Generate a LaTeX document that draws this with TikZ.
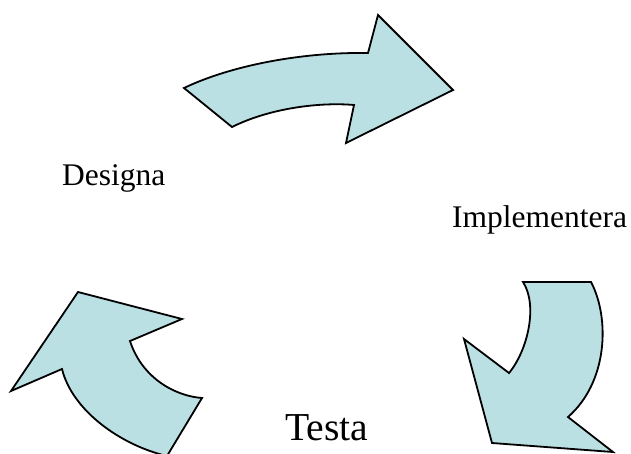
\documentclass[tikz,border=0pt]{standalone}
\usepackage{fontspec}
\setmainfont{Liberation Serif}
\definecolor{cyclefill}{RGB}{187,224,227}

\begin{document}
\begin{tikzpicture}
[every node/.style={inner sep=0pt}, cyclearrow/.style={fill=cyclefill, line width=1.8pt, draw=black, line join=miter}]
\clip (0pt, 0pt) rectangle (631pt, -453pt);
\draw [cyclearrow] (184pt, -88pt) .. controls (230pt, -66pt) and (300pt, -52pt) .. (368pt, -53pt) -- (378pt, -15pt) -- (453pt, -90pt) -- (346pt, -143pt) -- (354pt, -105pt) .. controls (320pt, -102pt) and (270pt, -108pt) .. (232pt, -127pt) -- cycle;
\draw [cyclearrow] (523pt, -282pt) -- (591pt, -282pt) .. controls (610pt, -318pt) and (608pt, -382pt) .. (568pt, -417pt) -- (613pt, -452pt) -- (492pt, -443pt) -- (464pt, -339pt) -- (509pt, -373pt) .. controls (528pt, -350pt) and (538pt, -305pt) .. (523pt, -282pt) -- cycle;
\draw [cyclearrow] (202pt, -398pt) .. controls (175pt, -396pt) and (142pt, -378pt) .. (130pt, -341pt) -- (182pt, -319pt) -- (78pt, -292pt) -- (11pt, -391pt) -- (62pt, -369pt) .. controls (72pt, -410pt) and (120pt, -445pt) .. (167pt, -456pt) -- cycle;
\node (1) [anchor=base west] at (62pt, -185pt) {\fontsize{31.5pt}{36pt}\selectfont Designa};
\node (2) [anchor=base west] at (452pt, -227pt) {\fontsize{31.5pt}{36pt}\selectfont Implementera};
\node (3) [anchor=base west] at (285pt, -440pt) {\fontsize{39.6pt}{45pt}\selectfont Testa};
\end{tikzpicture}
\end{document}
